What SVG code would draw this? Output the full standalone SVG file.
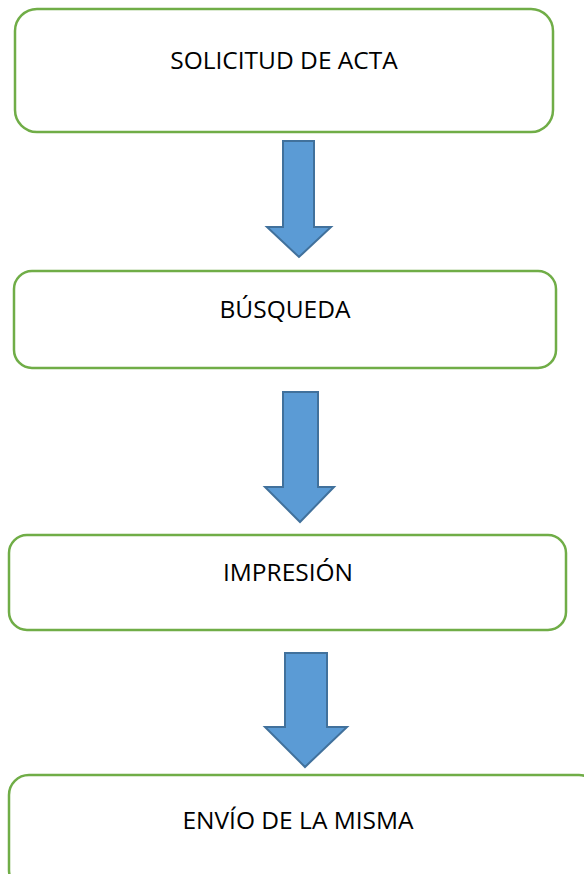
<svg xmlns="http://www.w3.org/2000/svg" width="584" height="874" viewBox="0 0 584 874">
<style>
.box{fill:#ffffff;stroke:#70AD47;stroke-width:2.5}
.arr{fill:#5B9BD5;stroke:#41719C;stroke-width:2;stroke-linejoin:miter}
.lbl{font-family:"Open Sans","Liberation Sans",sans-serif;font-size:24.5px;fill:#000000;text-anchor:middle}
</style>
<rect width="584" height="874" fill="#ffffff"/>
<g id="connectors">
<path class="arr" d="M283,141 H314 V227 H331 L299,257 L267,227 H283 Z"/>
<path class="arr" d="M283,392 H318 V487 H334 L300,522 L265,487 H283 Z"/>
<path class="arr" d="M285,653 H327 V727 H347 L305,767 L265,727 H285 Z"/>
</g>
<g id="n1">
<rect class="box" x="15" y="9" width="538" height="123" rx="22"/>
<text class="lbl" x="284" y="69">SOLICITUD DE ACTA</text>
</g>
<g id="n2">
<rect class="box" x="14" y="271" width="542" height="97" rx="18"/>
<text class="lbl" x="285" y="318">BÚSQUEDA</text>
</g>
<g id="n3">
<rect class="box" x="9" y="535" width="557" height="95" rx="18"/>
<text class="lbl" x="288" y="581">IMPRESIÓN</text>
</g>
<g id="n4">
<rect class="box" x="9" y="775" width="590" height="115" rx="20"/>
<text class="lbl" x="298" y="829">ENVÍO DE LA MISMA</text>
</g>
</svg>
